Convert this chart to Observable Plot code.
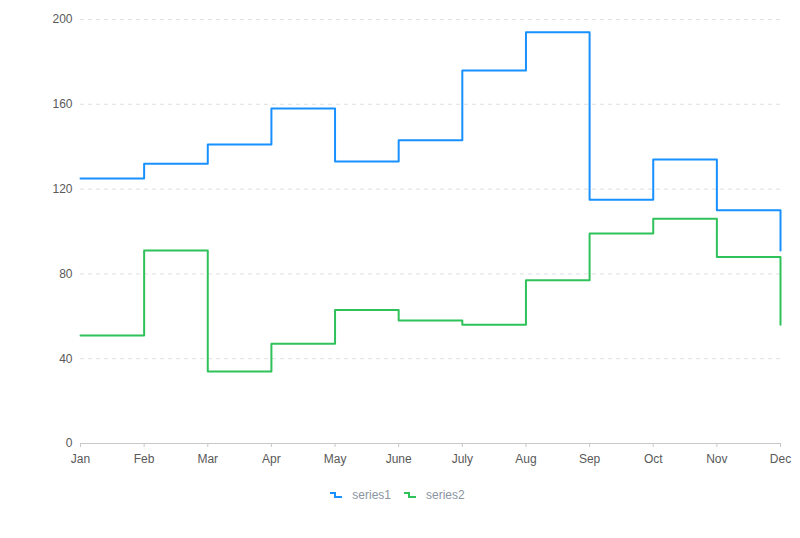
<!DOCTYPE html>
<html>
<head>
<meta charset="utf-8">
<script src="https://cdn.jsdelivr.net/npm/d3@7"></script>
<script src="https://cdn.jsdelivr.net/npm/@observablehq/plot@0.6"></script>
<style>
  html, body { margin: 0; padding: 0; background: #fff; }
  body { width: 800px; height: 538px; font-family: "Liberation Sans", Helvetica, Arial, sans-serif; }
  #chart svg { display: block; }
  #legend { display: flex; justify-content: center; gap: 12px; margin-top: 18px; font-size: 12px; color: #8b95a2; padding-right: 6px; }
  .item { display: flex; align-items: center; gap: 9px; }
</style>
</head>
<body>
<div id="chart"></div>
<div id="legend"></div>
<script>
const months = ["Jan","Feb","Mar","Apr","May","June","July","Aug","Sep","Oct","Nov","Dec"];
const series1 = [125,132,141,158,133,143,176,194,115,134,110,91];
const series2 = [51,91,34,47,63,58,56,77,99,106,88,56];
const seriesNames = ["series1","series2"];
const colors = ["#1890ff","#2fc25b"];
const yTicks = [0,40,80,120,160,200];

const data = [];
months.forEach((m, i) => {
  data.push({month: m, value: series1[i], series: seriesNames[0]});
  data.push({month: m, value: series2[i], series: seriesNames[1]});
});

const chart = Plot.plot({
  width: 800,
  height: 470,
  marginTop: 19,
  marginBottom: 27,
  marginLeft: 80,
  marginRight: 20,
  style: {fontFamily: '"Liberation Sans", Helvetica, Arial, sans-serif', fontSize: "12px", color: "#595959", background: "#fff"},
  x: {type: "point", domain: months, range: [80, 780], padding: 0, round: false, label: null},
  y: {domain: [0, 200], range: [443, 19], label: null},
  color: {domain: seriesNames, range: colors},
  marks: [
    Plot.gridY(yTicks.filter(d => d > 0), {stroke: "#e0e0e0", strokeOpacity: 1, strokeDasharray: "4,4"}),
    Plot.ruleY([0], {stroke: "#c8c8c8"}),
    Plot.axisX({tickSize: 4, tickPadding: 7, stroke: "#c8c8c8", fill: "#595959"}),
    Plot.axisY({ticks: yTicks, tickSize: 0, tickPadding: 8, fill: "#595959"}),
    Plot.line(data, {x: "month", y: "value", z: "series", stroke: "series", strokeWidth: 2, curve: "step-after"})
  ]
});
document.getElementById("chart").append(chart);

const legend = document.getElementById("legend");
seriesNames.forEach((name, i) => {
  const item = document.createElement("div");
  item.className = "item";
  item.innerHTML = `<svg width="14" height="10"><path d="M1,3 H6 V7 H13" fill="none" stroke="${colors[i]}" stroke-width="2"/></svg><span>${name}</span>`;
  legend.append(item);
});
</script>
</body>
</html>
